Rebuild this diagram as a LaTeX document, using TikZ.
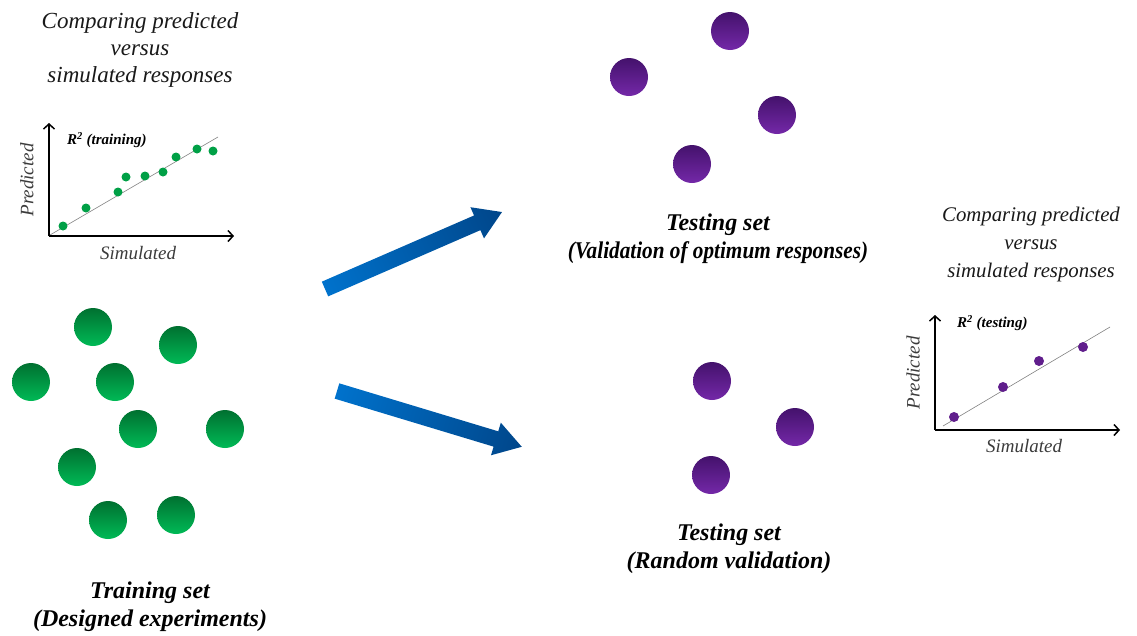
\documentclass[tikz,border=0pt]{standalone}
\usepackage{fontspec}
\setmainfont{Liberation Serif}
\usetikzlibrary{arrows.meta}

\definecolor{gtop}{RGB}{0,112,48}
\definecolor{gbot}{RGB}{0,186,86}
\definecolor{ptop}{RGB}{68,18,108}
\definecolor{pbot}{RGB}{116,40,168}
\definecolor{gdotc}{RGB}{0,160,70}
\definecolor{pdotc}{RGB}{96,30,140}
\definecolor{blight}{RGB}{0,114,204}
\definecolor{bdark}{RGB}{0,70,138}
\definecolor{txt}{RGB}{25,25,25}

\tikzset{
  gball/.style={circle, minimum size=38pt, inner sep=0pt, top color=gtop, bottom color=gbot},
  pball/.style={circle, minimum size=38pt, inner sep=0pt, top color=ptop, bottom color=pbot},
  gdot/.style={circle, fill=gdotc, minimum size=9pt, inner sep=0pt},
  pdot/.style={circle, fill=pdotc, minimum size=10pt, inner sep=0pt},
  axisline/.style={line width=1.5pt, -{Straight Barb[length=5pt,width=11pt,line width=1.5pt]}},
  trend/.style={draw=gray, line width=0.6pt},
  caption/.style={font=\fontsize{23}{27}\selectfont\itshape, align=center, text=txt, inner sep=0pt},
  smallcaption/.style={font=\fontsize{20.8}{28}\selectfont\itshape, align=center, text=txt, inner sep=0pt},
  setlabel/.style={font=\fontsize{24}{28}\selectfont\bfseries\itshape, align=center, inner sep=0pt},
  axlabel/.style={font=\fontsize{19}{22}\selectfont\itshape, text=txt!85, inner sep=0pt},
  rlabel/.style={font=\fontsize{15}{18}\selectfont\bfseries\itshape, inner sep=0pt, anchor=west},
  blockarrow/.style={left color=blight, right color=bdark},
}

\begin{document}
\begin{tikzpicture}[x=1pt, y=-1pt]
\useasboundingbox (0,0) rectangle (1137,635);

% ---------- training set ----------
\node[gball] (g1) at (93,327) {};
\node[gball] (g2) at (178,345) {};
\node[gball] (g3) at (31,382) {};
\node[gball] (g4) at (115,382) {};
\node[gball] (g5) at (138,429) {};
\node[gball] (g6) at (225,429) {};
\node[gball] (g7) at (77,467) {};
\node[gball] (g8) at (108,520) {};
\node[gball] (g9) at (176,515) {};
\node[setlabel] (train) at (150,607) {Training set\\(Designed experiments)};

% ---------- training plot ----------
\node[caption] (cap1) at (140,50) {Comparing predicted\\versus\\simulated responses};
\coordinate (o1) at (49,236);
\coordinate (y1) at (49,123);
\coordinate (x1) at (234,236);
\coordinate (l1a) at (50,235);
\coordinate (l1b) at (218,137);
\draw[trend] (l1a) -- (l1b);
\draw[axisline] (o1) -- (y1);
\draw[axisline] (o1) -- (x1);
\foreach \i/\p in {1/{(63,226)},2/{(86,208)},3/{(118,192)},4/{(126,177)},5/{(145,176)},6/{(163,172)},7/{(176,157)},8/{(197,149)},9/{(213,151)}}
  \node[gdot] (d1\i) at \p {};
\node[rlabel] (r1) at (67,140) {R\textsuperscript{2} (training)};
\node[axlabel, rotate=90] (py1) at (27,180) {Predicted};
\node[axlabel] (sx1) at (138,253) {Simulated};

% ---------- testing set (optimum) ----------
\node[pball] (p1) at (730,31) {};
\node[pball] (p2) at (629,77) {};
\node[pball] (p3) at (777,115) {};
\node[pball] (p4) at (692,164) {};
\node[setlabel] (test1) at (718,239) {Testing set\\\scalebox{0.885}[1]{(Validation of optimum responses)}};

% ---------- testing set (random) ----------
\node[pball] (q1) at (712,381) {};
\node[pball] (q2) at (795,427) {};
\node[pball] (q3) at (711,475) {};
\node[setlabel] (test2) at (729,549) {Testing set\\(Random validation)};

% ---------- testing plot ----------
\node[smallcaption] (cap2) at (1031,244) {Comparing predicted\\versus\\simulated responses};
\coordinate (o2) at (935,430);
\coordinate (y2) at (935,315);
\coordinate (x2) at (1120,430);
\coordinate (l2a) at (943,426);
\coordinate (l2b) at (1110,327);
\draw[trend] (l2a) -- (l2b);
\draw[axisline] (o2) -- (y2);
\draw[axisline] (o2) -- (x2);
\foreach \i/\p in {1/{(954,417)},2/{(1003,387)},3/{(1039,361)},4/{(1083,347)}}
  \node[pdot] (d2\i) at \p {};
\node[rlabel] (r2) at (957,323) {R\textsuperscript{2} (testing)};
\node[axlabel, rotate=90] (py2) at (913,373) {Predicted};
\node[axlabel] (sx2) at (1024,446) {Simulated};

% ---------- block arrows ----------
\coordinate (a1) at (325,289);
\coordinate (a2) at (337,391);
\begin{scope}[transform canvas={shift={(a1)}, rotate=23.5}]
  \shade[blockarrow] (0,8) -- (166,8) -- (166,17) -- (193,0) -- (166,-17) -- (166,-8) -- (0,-8) -- cycle;
\end{scope}
\begin{scope}[transform canvas={shift={(a2)}, rotate=-16.8}]
  \shade[blockarrow] (0,8) -- (166,8) -- (166,17) -- (193,0) -- (166,-17) -- (166,-8) -- (0,-8) -- cycle;
\end{scope}
\end{tikzpicture}
\end{document}
